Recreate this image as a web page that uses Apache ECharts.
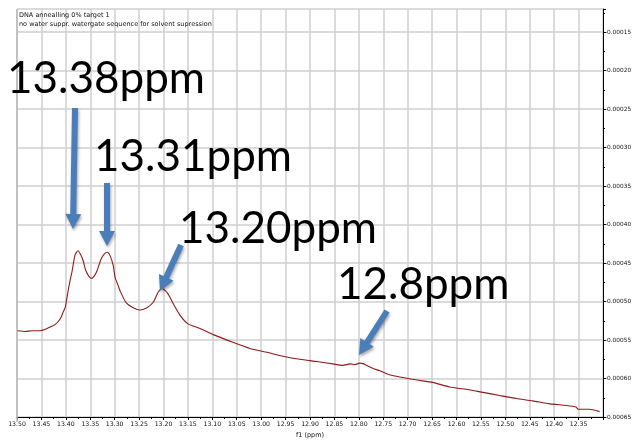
<!DOCTYPE html>
<html>
<head>
<meta charset="utf-8">
<script src="https://cdn.jsdelivr.net/npm/echarts@6/dist/echarts.min.js"></script>
<style>
  html, body { margin: 0; padding: 0; background: #fff; }
  #chart { width: 637px; height: 444px; }
</style>
</head>
<body>
<div id="chart"></div>
<script>
// chemical shift (ppm) of each sampled point
const ppmValues = [
  13.499, 13.483, 13.469, 13.452, 13.442, 13.432, 13.422, 13.411, 13.405, 13.401,
  13.395, 13.391, 13.387, 13.381, 13.375, 13.369, 13.364, 13.360, 13.354, 13.348,
  13.342, 13.336, 13.328, 13.321, 13.315, 13.309, 13.303, 13.299, 13.293, 13.289,
  13.277, 13.262, 13.248, 13.234, 13.221, 13.211, 13.203, 13.193, 13.187, 13.180,
  13.166, 13.150, 13.125, 13.098, 13.058, 13.023, 12.988, 12.955, 12.921, 12.886,
  12.853, 12.833, 12.818, 12.808, 12.798, 12.790, 12.784, 12.771, 12.757, 12.737,
  12.716, 12.681, 12.649, 12.614, 12.580, 12.546, 12.512, 12.477, 12.444, 12.409,
  12.375, 12.355, 12.351, 12.328, 12.307
];
// signal intensity
const intensities = [
  -0.000538, -0.000539, -0.000538, -0.000538, -0.000536, -0.000533, -0.000530, -0.000522, -0.000513, -0.000507,
  -0.000485, -0.000472, -0.000460, -0.000439, -0.000434, -0.000440, -0.000448, -0.000458, -0.000466, -0.000470,
  -0.000467, -0.000460, -0.000445, -0.000438, -0.000436, -0.000441, -0.000453, -0.000469, -0.000479, -0.000486,
  -0.000501, -0.000508, -0.000511, -0.000508, -0.000501, -0.000488, -0.000483, -0.000488, -0.000494, -0.000503,
  -0.000518, -0.000529, -0.000535, -0.000543, -0.000553, -0.000561, -0.000566, -0.000571, -0.000575, -0.000578,
  -0.000581, -0.000583, -0.000581, -0.000582, -0.000580, -0.000581, -0.000583, -0.000587, -0.000590, -0.000595,
  -0.000598, -0.000602, -0.000605, -0.000611, -0.000614, -0.000618, -0.000622, -0.000626, -0.000629, -0.000633,
  -0.000635, -0.000637, -0.000640, -0.000640, -0.000643
];
// peak annotations
const peakLabels = ['13.38ppm', '13.31ppm', '13.20ppm', '12.8ppm'];
const titleLines = ['DNA annealling 0% target 1', 'no water suppr. watergate sequence for solvent supression'];

const chart = echarts.init(document.getElementById('chart'));

//箭头多边形
function arrowPoints(x1, y1, x2, y2) {
  const dx = x2 - x1, dy = y2 - y1;
  const len = Math.sqrt(dx * dx + dy * dy);
  const ux = dx / len, uy = dy / len;
  const nx = -uy, ny = ux;
  const shaft = 3, head = 8, headLen = 15;
  const bx = x2 - ux * headLen, by = y2 - uy * headLen;
  return [
    [x1 + nx * shaft, y1 + ny * shaft],
    [bx + nx * shaft, by + ny * shaft],
    [bx + nx * head, by + ny * head],
    [x2, y2],
    [bx - nx * head, by - ny * head],
    [bx - nx * shaft, by - ny * shaft],
    [x1 - nx * shaft, y1 - ny * shaft]
  ];
}

const arrows = [
  [75, 108, 73, 229],
  [107, 183, 107, 246],
  [181, 245, 160, 291],
  [387, 311, 359, 355]
];
const textPos = [
  [7, 98],
  [94, 176],
  [179, 248],
  [337, 304]
];

const graphics = [];
arrows.forEach(a => {
  graphics.push({
    type: 'polygon',
    shape: { points: arrowPoints(a[0], a[1], a[2], a[3]) },
    style: {
      fill: '#4a7ebb',
      shadowColor: 'rgba(0,0,0,0.35)',
      shadowBlur: 3,
      shadowOffsetX: 1,
      shadowOffsetY: 2
    },
    z: 100
  });
});
peakLabels.forEach((t, i) => {
  graphics.push({
    type: 'text',
    left: textPos[i][0],
    top: textPos[i][1] - 41,
    style: {
      text: t,
      fill: '#000',
      font: '44px Lato',
    },
    z: 101
  });
});
graphics.push({
  type: 'text',
  left: 19,
  top: 11,
  style: {
    text: titleLines.join('\n'),
    fill: '#111',
    font: '6.5px "DejaVu Sans"',
    lineHeight: 9
  },
  z: 50
});

const option = {
  animation: false,
  backgroundColor: '#fff',
  grid: { left: 17, right: 34, top: 9, bottom: 22, show: false },
  xAxis: {
    type: 'value',
    inverse: true,
    min: 12.30,
    max: 13.50,
    interval: 0.05,
    name: 'f1 (ppm)',
    nameLocation: 'middle',
    nameGap: 15,
    nameTextStyle: { fontFamily: 'DejaVu Sans', fontSize: 6.5, color: '#111' },
    axisLine: { show: true, onZero: false, lineStyle: { color: '#000', width: 1 } },
    axisTick: { show: true, length: 3, lineStyle: { color: '#000' } },
    minorTick: { show: true, splitNumber: 2, length: 2, lineStyle: { color: '#000' } },
    axisLabel: {
      fontFamily: 'DejaVu Sans', fontSize: 6.2, color: '#111', margin: 4,
      showMinLabel: false,
      formatter: v => v.toFixed(2)
    },
    splitLine: { show: true, lineStyle: { color: '#cfcfcf', width: 1.5 } }
  },
  yAxis: {
    type: 'value',
    position: 'right',
    min: -0.00065,
    max: -0.00012,
    interval: 0.00005,
    axisLine: { show: true, onZero: false, lineStyle: { color: '#000', width: 1 } },
    axisTick: { show: true, inside: false, length: 3, lineStyle: { color: '#000' } },
    minorTick: { show: true, splitNumber: 2, length: 2, lineStyle: { color: '#000' } },
    axisLabel: {
      fontFamily: 'DejaVu Sans', fontSize: 5.8, color: '#111', margin: 2,
      showMaxLabel: false,
      formatter: v => v.toFixed(5)
    },
    splitLine: { show: true, lineStyle: { color: '#cfcfcf', width: 1.5 } }
  },
  graphic: graphics,
  series: [{
    type: 'line',
    showSymbol: false,
    smooth: 0.2,
    data: ppmValues.map((p, i) => [p, intensities[i]]),
    lineStyle: { color: '#8e1b1b', width: 1.1 },
    z: 10
  }]
};
chart.setOption(option);

// left frame line
const leftX = chart.convertToPixel({ xAxisIndex: 0 }, 13.50);
chart.setOption({
  graphic: graphics.concat([{
    type: 'line',
    shape: { x1: leftX, y1: 9, x2: leftX, y2: 422 },
    style: { stroke: '#b8b8b8', lineWidth: 1.5 },
    z: 5
  }])
});
</script>
</body>
</html>
